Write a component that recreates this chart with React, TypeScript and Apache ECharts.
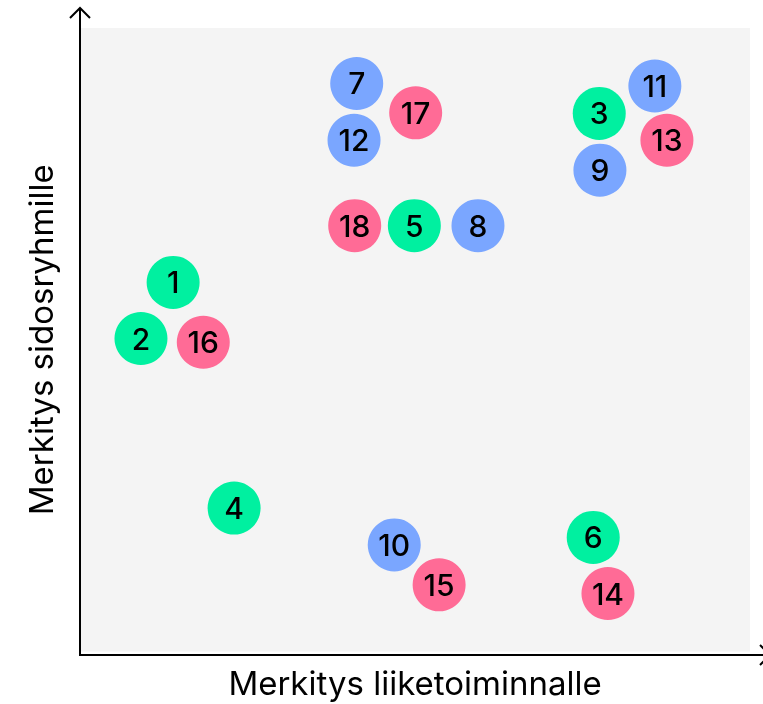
import React, { useEffect, useRef } from "react";
import * as echarts from "echarts";

const greenIds = ["1", "2", "3", "4", "5", "6"];
const greenX = [13.9, 9.1, 77.5, 23.0, 49.9, 76.6];
const greenY = [59.2, 50.2, 86.3, 23.0, 68.3, 18.3];

const blueIds = ["7", "8", "9", "10", "11", "12"];
const blueX = [41.3, 59.4, 77.6, 46.9, 85.8, 40.9];
const blueY = [91.1, 68.3, 77.2, 17.1, 90.7, 82.0];

const pinkIds = ["13", "14", "15", "16", "17", "18"];
const pinkX = [87.6, 78.8, 53.6, 18.4, 50.1, 41.0];
const pinkY = [82.0, 9.3, 10.7, 49.6, 86.4, 68.3];

const xTitle = "Merkitys liiketoiminnalle";
const yTitle = "Merkitys sidosryhmille";

const FONT = "Inter, 'Noto Sans', sans-serif";

function build(ids: string[], xs: number[], ys: number[]) {
  return ids.map((id, i) => ({ name: id, value: [xs[i], ys[i]] }));
}

export default function App() {
  const ref = useRef<HTMLDivElement>(null);
  useEffect(() => {
    if (!ref.current) return;
    const chart = echarts.init(ref.current, null, { renderer: "svg" });
    const mk = (ids: string[], xs: number[], ys: number[], color: string) => ({
      type: "scatter",
      symbol: "circle",
      symbolSize: 53,
      data: build(ids, xs, ys),
      itemStyle: { color, opacity: 1 },
      label: {
        show: true,
        position: "inside",
        formatter: (p: any) => p.name,
        color: "#000",
        fontSize: 30,
        fontFamily: FONT,
        fontWeight: 500,
      },
      emphasis: { disabled: true },
    });
    chart.setOption({
      animation: false,
      grid: {
        left: 80,
        right: 13,
        top: 28,
        bottom: 49,
        show: true,
        backgroundColor: "#f4f4f4",
        borderWidth: 0,
      },
      xAxis: {
        type: "value",
        min: 0,
        max: 100,
        axisLine: { show: false },
        axisTick: { show: false },
        axisLabel: { show: false },
        splitLine: { show: false },
        name: xTitle,
        nameLocation: "middle",
        nameGap: 31,
        nameTextStyle: { fontSize: 33, color: "#000", fontFamily: FONT, verticalAlign: "middle" },
      },
      yAxis: {
        type: "value",
        min: 0,
        max: 100,
        axisLine: { show: false },
        axisTick: { show: false },
        axisLabel: { show: false },
        splitLine: { show: false },
        name: yTitle,
        nameLocation: "middle",
        nameGap: 39,
        nameTextStyle: { fontSize: 33, color: "#000", fontFamily: FONT, verticalAlign: "middle" },
      },
      graphic: [
        { type: "line", shape: { x1: 80, y1: 655, x2: 80, y2: 8 }, style: { stroke: "#000", lineWidth: 2 } },
        { type: "polyline", shape: { points: [[70, 18], [80, 8], [90, 18]] }, style: { stroke: "#000", lineWidth: 2, fill: null } },
        { type: "line", shape: { x1: 79, y1: 655, x2: 770, y2: 655 }, style: { stroke: "#000", lineWidth: 2 } },
        { type: "polyline", shape: { points: [[760, 645], [770, 655], [760, 665]] }, style: { stroke: "#000", lineWidth: 2, fill: null } },
      ],
      series: [
        mk(greenIds, greenX, greenY, "#00f0a0"),
        mk(blueIds, blueX, blueY, "#7aa6ff"),
        mk(pinkIds, pinkX, pinkY, "#ff6b96"),
      ],
    });
    return () => chart.dispose();
  }, []);
  return <div ref={ref} style={{ width: 763, height: 704, position: "fixed", left: 0, top: 0 }} />;
}
